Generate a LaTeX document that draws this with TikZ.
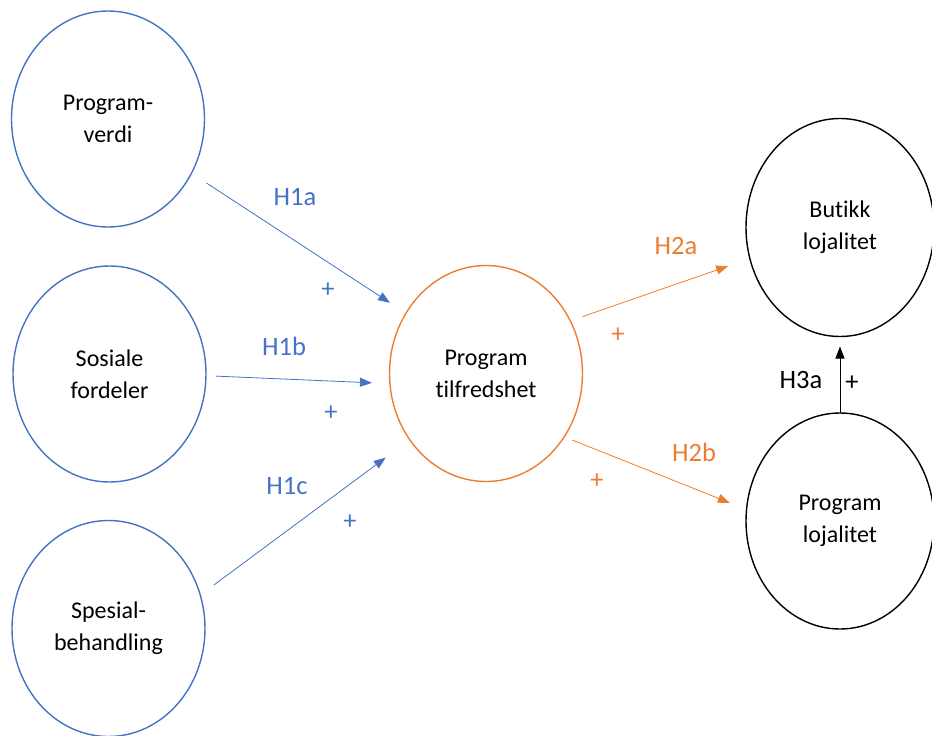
\documentclass[tikz,border=0pt]{standalone}
\usepackage{fontspec}
\setmainfont{Carlito}[Ligatures=NoCommon]
\usetikzlibrary{arrows.meta,shapes.geometric}
\definecolor{hblue}{HTML}{4472C4}
\definecolor{horange}{HTML}{ED7D31}
\begin{document}
\begin{tikzpicture}[x=1pt,y=-1pt,
  construct/.style={ellipse,draw,line width=1.4pt,inner sep=0pt,outer sep=0pt,
    minimum width=193pt,minimum height=216pt,align=center,
    font=\fontsize{24}{32}\selectfont},
  hyp/.style={line width=0.8pt,-{Triangle[length=12pt,width=9pt]}},
  lbl/.style={inner sep=0pt,font=\fontsize{26.5}{32}\selectfont}]
\useasboundingbox (0,0) rectangle (932,736);
% constructs
\node[construct,draw=hblue] (verdi) at (108,119) {Program-\\verdi};
\node[construct,draw=hblue] (sosial) at (109.5,374) {Sosiale\\fordeler};
\node[construct,draw=hblue] (spesial) at (108.5,628.5) {Spesial-\\behandling};
\node[construct,draw=horange] (tilfreds) at (486,373.5) {Program\\tilfredshet};
\node[construct,draw=black,minimum width=188pt,minimum height=218pt] (butikk) at (840,227.5) {Butikk\\lojalitet};
\node[construct,draw=black,minimum width=188pt,minimum height=216pt] (proglojal) at (840,521) {Program\\lojalitet};
% hypotheses H1
\draw[hyp,hblue,shorten <=18pt,shorten >=19pt] (verdi.-33) -- (tilfreds.143);
\draw[hyp,hblue,shorten <=10pt,shorten >=18pt] (sosial.-1.6) -- (tilfreds.186);
\draw[hyp,hblue,shorten <=17pt,shorten >=30pt] (spesial.20) -- (tilfreds.221.5);
\node[lbl,text=hblue] (h1a) at (295,197) {H1a};
\node[lbl,text=hblue] (p1a) at (328,290) {+};
\node[lbl,text=hblue] (h1b) at (284,346) {H1b};
\node[lbl,text=hblue] (p1b) at (331,413) {+};
\node[lbl,text=hblue] (h1c) at (287,486) {H1c};
\node[lbl,text=hblue] (p1c) at (350,522) {+};
% hypotheses H2
\draw[hyp,horange,shorten <=13pt,shorten >=23pt] (tilfreds.32) -- (butikk.199.5);
\draw[hyp,horange,shorten <=9pt,shorten >=18pt] (tilfreds.-39) -- (proglojal.173.5);
\node[lbl,text=horange] (h2a) at (676,246) {H2a};
\node[lbl,text=horange] (p2a) at (618,335) {+};
\node[lbl,text=horange] (h2b) at (694,452) {H2b};
\node[lbl,text=horange] (p2b) at (597,481) {+};
% hypothesis H3
\draw[hyp,black,shorten >=10pt] (proglojal.north) -- (butikk.south);
\node[lbl] (h3a) at (801,380) {H3a};
\node[lbl] (p3a) at (852,383) {+};
\end{tikzpicture}
\end{document}
